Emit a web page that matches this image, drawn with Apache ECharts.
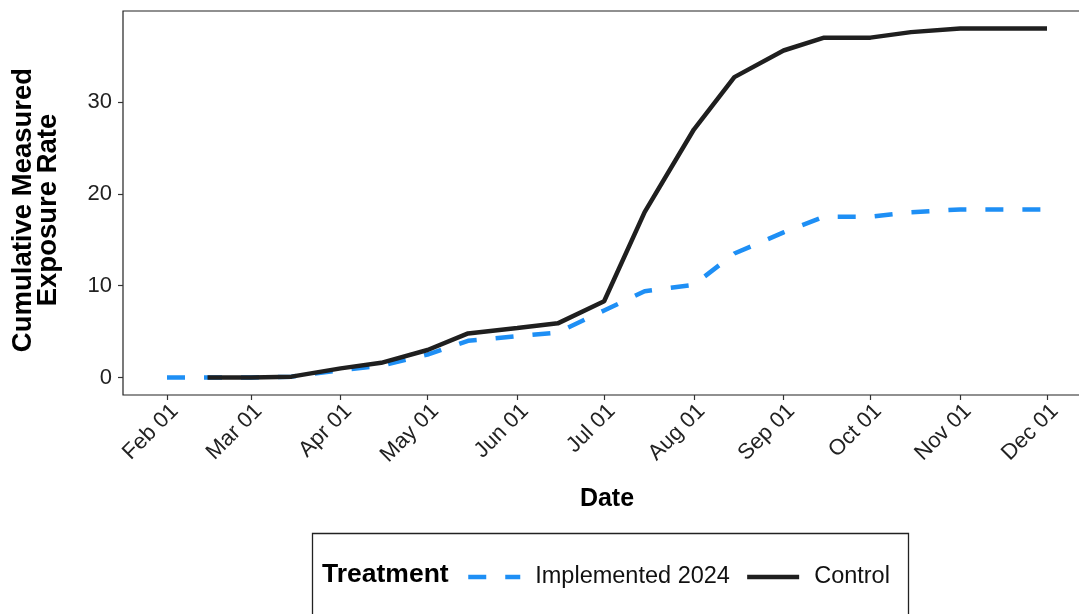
<!DOCTYPE html>
<html>
<head>
<meta charset="utf-8">
<title>Cumulative Measured Exposure Rate</title>
<script src="https://cdn.jsdelivr.net/npm/echarts@6/dist/echarts.min.js"></script>
<style>
	html, body { margin: 0; padding: 0; background: #fff; }
	#chart { width: 1079px; height: 614px; }
</style>
</head>
<body>
<div id="chart"></div>
<script>
// sample dates (2024), 1st and 15th of each month
var dates = ['2024-02-01', '2024-02-15', '2024-03-01', '2024-03-15', '2024-04-01', '2024-04-15',
	'2024-05-01', '2024-05-15', '2024-06-01', '2024-06-15', '2024-07-01', '2024-07-15',
	'2024-08-01', '2024-08-15', '2024-09-01', '2024-09-15', '2024-10-01', '2024-10-15',
	'2024-11-01', '2024-11-15', '2024-12-01'];
var implemented = [0, 0, 0, 0.1, 0.8, 1.3, 2.5, 4.0, 4.5, 4.9, 7.3, 9.4,
	10.1, 13.5, 15.8, 17.5, 17.5, 18.0, 18.3, 18.3, 18.3];
var control = [null, 0, 0, 0.1, 1.0, 1.6, 3.0, 4.8, 5.4, 5.9, 8.3, 18.0,
	27.0, 32.7, 35.6, 37.0, 37.0, 37.6, 38.0, 38.0, 38.0];

var tickDates = ['2024-02-01', '2024-03-01', '2024-04-01', '2024-05-01', '2024-06-01', '2024-07-01',
	'2024-08-01', '2024-09-01', '2024-10-01', '2024-11-01', '2024-12-01'];
var tickLabels = ['Feb 01', 'Mar 01', 'Apr 01', 'May 01', 'Jun 01', 'Jul 01',
	'Aug 01', 'Sep 01', 'Oct 01', 'Nov 01', 'Dec 01'];
var yTicks = [0, 10, 20, 30];

var seriesNames = ['Implemented 2024', 'Control'];
var blue = '#1E8FF5';
var black = '#1f1f1f';
var font = '"Liberation Sans", Arial, sans-serif';

// dates as day numbers counted from Feb 01
var t0 = Date.UTC(2024, 1, 1);
function toDay(s) {
	var p = s.split('-');
	return Math.round((Date.UTC(+p[0], +p[1] - 1, +p[2]) - t0) / 86400000);
}
function pairs(vals) {
	var out = [];
	for (var i = 0; i < dates.length; i++) {
		if (vals[i] !== null) out.push([toDay(dates[i]), vals[i]]);
	}
	return out;
}

var tickDays = tickDates.map(toDay);
// ggplot style 5% expansion of the date range
var span = tickDays[tickDays.length - 1] - tickDays[0];
var xMin = tickDays[0] - span * 0.05;
var xMax = tickDays[tickDays.length - 1] + span * 0.05;

var myChart = echarts.init(document.getElementById('chart'));
var option = {
	backgroundColor: '#fff',
	animation: false,
	textStyle: { fontFamily: font },
	grid: {
		left: 123,
		top: 11,
		height: 384,
		right: -12,
		containLabel: false,
		outerBoundsMode: 'none',
		show: true,
		borderColor: '#222',
		borderWidth: 1.2,
		backgroundColor: 'transparent'
	},
	xAxis: {
		type: 'value',
		min: xMin,
		max: xMax,
		name: 'Date',
		nameLocation: 'middle',
		nameGap: 92,
		nameTextStyle: { fontSize: 25, fontWeight: 'bold', color: '#000', fontFamily: font },
		axisLine: { show: false, onZero: false },
		splitLine: { show: false },
		axisTick: {
			show: true,
			length: 5,
			customValues: tickDays,
			lineStyle: { color: '#333', width: 1.2 }
		},
		axisLabel: {
			customValues: tickDays,
			rotate: 45,
			margin: 5,
			verticalAlign: 'top',
			fontSize: 22,
			color: '#222',
			fontFamily: font,
			formatter: function (val) {
				var idx = tickDays.indexOf(Math.round(val));
				return idx >= 0 ? tickLabels[idx] : '';
			}
		}
	},
	yAxis: {
		type: 'value',
		min: -1.9,
		max: 39.9,
		name: 'Cumulative Measured\nExposure Rate',
		nameLocation: 'middle',
		nameRotate: 90,
		nameGap: 62,
		nameTextStyle: { fontSize: 27.5, fontWeight: 'bold', color: '#000', lineHeight: 25, padding: [0, 14, 0, 0], fontFamily: font },
		axisLine: { show: false, onZero: false },
		splitLine: { show: false },
		axisTick: {
			show: true,
			length: 5,
			customValues: yTicks,
			lineStyle: { color: '#333', width: 1.2 }
		},
		axisLabel: {
			customValues: yTicks,
			margin: 11,
			fontSize: 22,
			color: '#222',
			fontFamily: font
		}
	},
	legend: {
		left: 461,
		top: 558,
		itemWidth: 52,
		itemHeight: 14,
		itemGap: 15,
		selectedMode: false,
		data: seriesNames,
		itemStyle: { opacity: 0 },
		lineStyle: { width: 4.5 },
		textStyle: { fontSize: 23.5, color: '#111', lineHeight: 28, padding: [0, 0, 0, 10], fontFamily: font }
	},
	graphic: [
		{
			type: 'rect',
			left: 310,
			top: 531,
			shape: { width: 596, height: 90 },
			style: { fill: 'none', stroke: '#222', lineWidth: 1.3 },
			silent: true
		},
		{
			type: 'text',
			left: 322,
			top: 561,
			style: { text: 'Treatment', font: 'bold 26.5px ' + font, fill: '#000' },
			silent: true
		}
	],
	series: [
		{
			name: seriesNames[0],
			type: 'line',
			symbol: 'none',
			data: pairs(implemented),
			lineStyle: { color: blue, width: 4.5, type: [18, 19], cap: 'butt' },
			itemStyle: { color: blue },
			z: 2
		},
		{
			name: seriesNames[1],
			type: 'line',
			symbol: 'none',
			data: pairs(control),
			lineStyle: { color: black, width: 4.5 },
			itemStyle: { color: black },
			z: 3
		}
	]
};
myChart.setOption(option);
</script>
</body>
</html>
